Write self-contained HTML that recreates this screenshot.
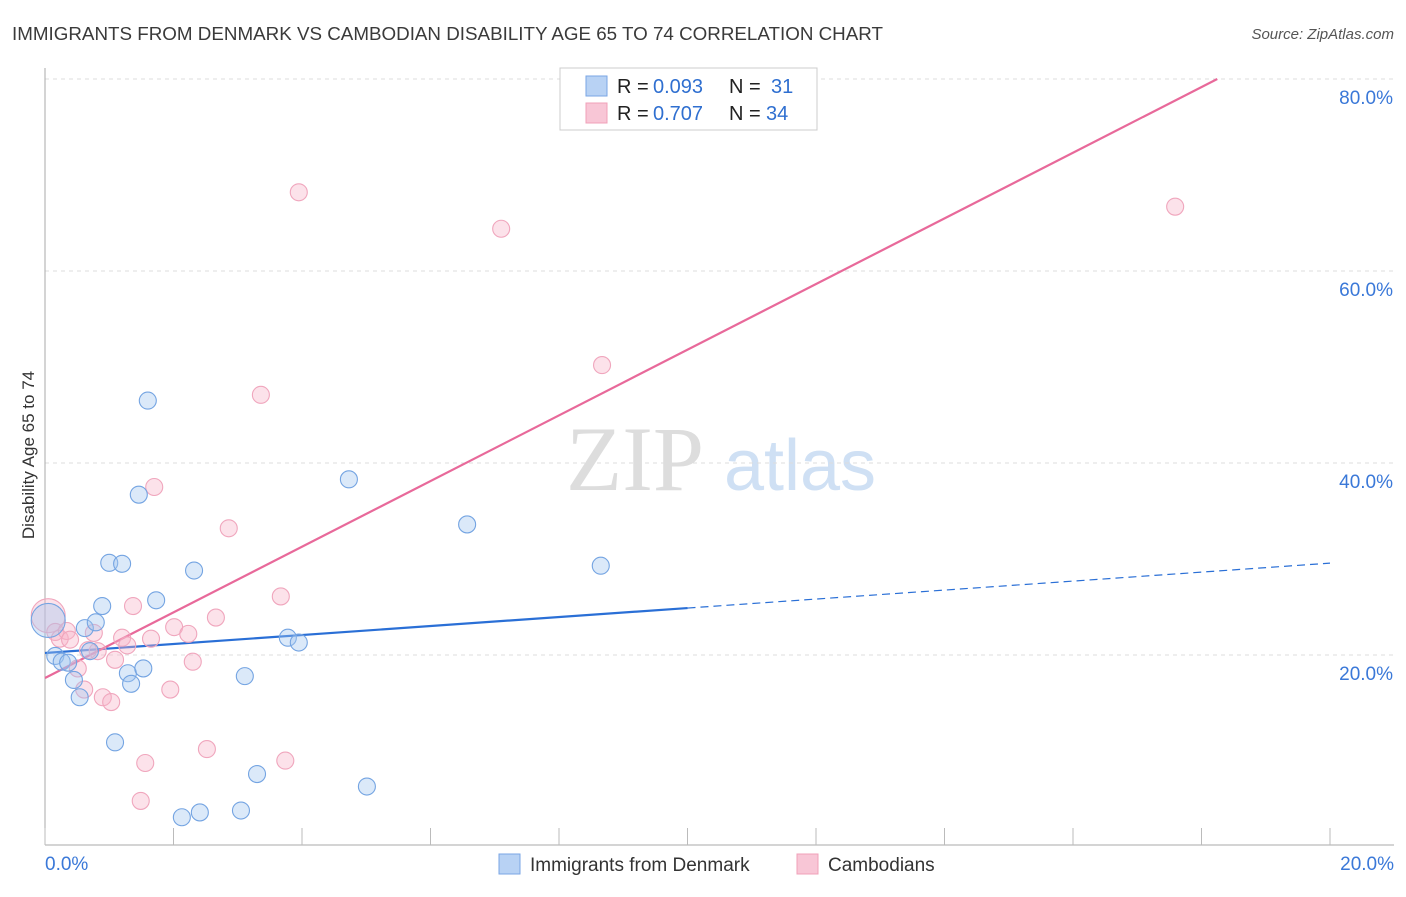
<!DOCTYPE html>
<html><head><meta charset="utf-8"><style>
body{margin:0;background:#fff;font-family:"Liberation Sans",sans-serif}
</style></head><body>
<svg width="1406" height="892" xmlns="http://www.w3.org/2000/svg">
<text x="12" y="40" font-size="18.8" fill="#3a3a3a" textLength="871">IMMIGRANTS FROM DENMARK VS CAMBODIAN DISABILITY AGE 65 TO 74 CORRELATION CHART</text>
<text x="1394" y="39" font-size="15" fill="#555" text-anchor="end" font-style="italic">Source: ZipAtlas.com</text>
<text x="34" y="455" font-size="17" fill="#333" text-anchor="middle" transform="rotate(-90 34 455)">Disability Age 65 to 74</text>
<g><text x="635" y="490" font-size="92" fill="#ddd" font-family="Liberation Serif,serif" text-anchor="middle">ZIP</text><text x="800" y="490" font-size="72" fill="#cfe0f4" text-anchor="middle">atlas</text></g>
<g id="grid"></g><g id="axes"></g><g id="lines"></g><g id="pts"></g>
<g>
<rect x="560" y="68" width="257" height="62" fill="#fff" stroke="#ccc"/>
<rect x="586" y="76" width="21" height="20" fill="#b8d2f4" stroke="#7aa6e4"/>
<rect x="586" y="103" width="21" height="20" fill="#f8c6d6" stroke="#f0a0b8"/>
<text x="617" y="93" font-size="20" fill="#222">R =</text><text x="653" y="93" font-size="20" fill="#2f6fd0">0.093</text>
<text x="729" y="93" font-size="20" fill="#222">N =</text><text x="771" y="93" font-size="20" fill="#2f6fd0">31</text>
<text x="617" y="120" font-size="20" fill="#222">R =</text><text x="653" y="120" font-size="20" fill="#2f6fd0">0.707</text>
<text x="729" y="120" font-size="20" fill="#222">N =</text><text x="766" y="120" font-size="20" fill="#2f6fd0">34</text>
</g>
<g>
<rect x="499" y="854" width="21" height="20" fill="#b8d2f4" stroke="#7aa6e4"/>
<text x="530" y="871" font-size="19" fill="#333">Immigrants from Denmark</text>
<rect x="797" y="854" width="21" height="20" fill="#f8c6d6" stroke="#f0a0b8"/>
<text x="828" y="871" font-size="19" fill="#333">Cambodians</text>
</g>
<text x="45" y="870" font-size="19" fill="#3a78d8">0.0%</text>
<text x="1394" y="870" font-size="19" fill="#3a78d8" text-anchor="end">20.0%</text>
</svg>
<script>
const yTicks=[20,40,60,80];
const blueX=[0.05,0.16,0.26,0.36,0.45,0.54,0.62,0.70,0.79,0.89,1.00,1.09,1.20,1.29,1.34,1.46,1.53,1.60,1.73,2.13,2.32,2.41,3.05,3.11,3.30,3.78,3.95,4.73,5.01,6.57,8.65];
const blueY=[23.6,19.9,19.3,19.2,17.4,15.6,22.8,20.4,23.4,25.1,29.6,10.9,29.5,18.1,17.0,36.7,18.6,46.5,25.7,3.1,28.8,3.6,3.8,17.8,7.6,21.8,21.3,38.3,6.3,33.6,29.3];
const pinkX=[0.05,0.16,0.23,0.34,0.51,0.61,0.76,0.82,0.90,1.03,1.09,1.20,1.28,1.37,1.49,1.56,1.65,1.70,1.95,2.01,2.23,2.30,2.52,2.66,2.86,3.67,3.36,3.74,3.95,7.10,8.67,17.59,0.39,0.67];
const pinkY=[24.1,22.4,21.7,22.5,18.6,16.4,22.3,20.4,15.6,15.1,19.5,21.8,21.0,25.1,4.8,8.75,21.7,37.5,16.4,22.9,22.2,19.3,10.2,23.9,33.2,26.1,47.1,9.0,68.2,64.4,50.2,66.7,21.6,20.5];
const blueFit=[20.21,0.468];
const pinkFit=[17.6,3.42];
const X=v=>45+v*64.25, Y=v=>847-v*9.6;
const NS="http://www.w3.org/2000/svg";
function mk(p,t,a){const e=document.createElementNS(NS,t);for(const k in a)e.setAttribute(k,a[k]);p.appendChild(e);return e;}
const g=document.getElementById('grid'),ax=document.getElementById('axes'),ln=document.getElementById('lines'),pt=document.getElementById('pts');
yTicks.forEach(t=>{
 const l=mk(g,'line',{x1:45,x2:1394,y1:Y(t),y2:Y(t),stroke:'#ddd','stroke-dasharray':'4 4'});
 
 
 const tx=mk(g,'text',{x:1393,y:Y(t)+25,'font-size':19,fill:'#3a78d8','text-anchor':'end'});tx.textContent=t.toFixed(1)+'%';
 
 
});
mk(ax,'line',{x1:45,x2:45,y1:68,y2:845,stroke:'#aaa'});
const xa=mk(ax,'line',{x1:45,x2:1394,y1:845,y2:845,stroke:'#aaa'});


for(let i=0;i<=10;i++){mk(ax,'line',{x1:X(i*2),x2:X(i*2),y1:828,y2:845,stroke:'#bbb'});}
function fitLine(f,x0,x1,col,dash,name){const l=mk(ln,'line',{x1:X(x0),y1:Y(f[0]+f[1]*x0),x2:X(x1),y2:Y(f[0]+f[1]*x1),stroke:col,'stroke-width':dash?1.2:2.2,'stroke-dasharray':dash?'8 5':'none'});
 
 }
function pts(xs,ys,fill,stroke,name){xs.forEach((x,i)=>{const c=mk(pt,'circle',{cx:X(x),cy:Y(ys[i]),r:i==0?17:8.5,fill:fill,stroke:stroke,'stroke-width':1.1});
 
 });}
pts(pinkX,pinkY,'rgba(248,180,200,0.38)','#f0a6bd','cambodians');
pts(blueX,blueY,'rgba(160,196,240,0.38)','#74a4e2','denmark');
fitLine(blueFit,0,10,'#2a6fd6',false,'denmark-trendline');
fitLine(blueFit,10,20,'#2a6fd6',true,'denmark-trendline-extension');
fitLine(pinkFit,0,(80-pinkFit[0])/pinkFit[1],'#e8699a',false,'cambodians-trendline');
</script>
</body></html>
